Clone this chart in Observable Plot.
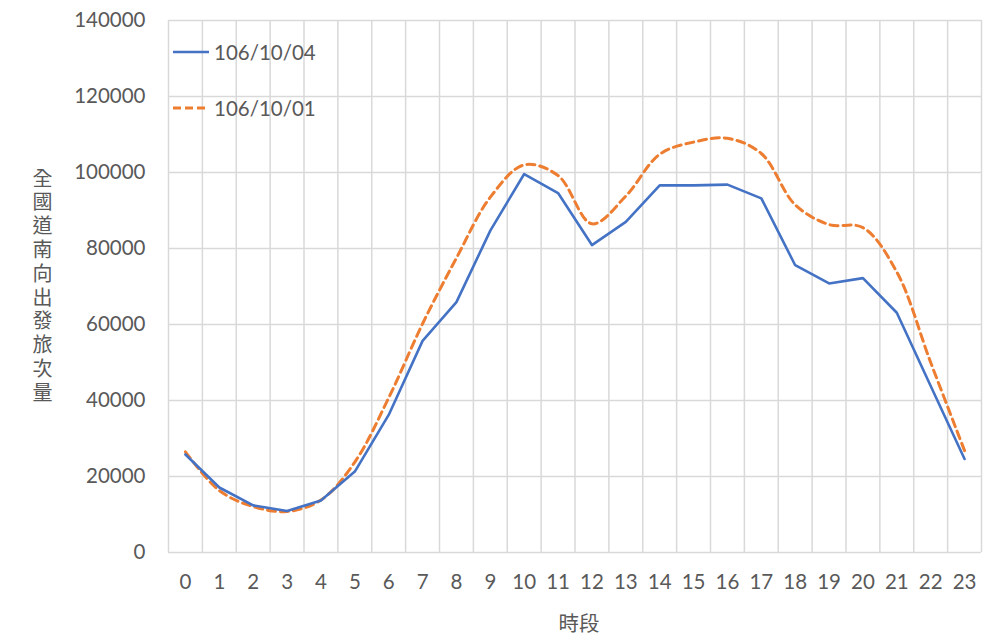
<!DOCTYPE html>
<html><head><meta charset="utf-8">
<script src="https://cdn.jsdelivr.net/npm/d3@7"></script>
<script src="https://cdn.jsdelivr.net/npm/@observablehq/plot@0.6"></script>
<style>
body{margin:0;background:#fff;}
#wrap{position:relative;width:985px;height:642px;overflow:hidden;background:#fff;}
#border{position:absolute;left:7px;top:0;width:1px;height:642px;background:#d9d9d9;}
.leg{position:absolute;left:172px;display:flex;align-items:center;font-family:Lato,"Noto Sans",sans-serif;font-size:20.5px;color:#595959;}
.leg svg{margin-right:4px;}
#ylab{position:absolute;left:31px;top:168px;writing-mode:vertical-rl;text-orientation:upright;font-family:"Noto Sans CJK TC",sans-serif;font-size:20px;line-height:22px;letter-spacing:3.8px;color:#595959;}
</style></head><body><div id="wrap"><div id="border"></div></div>
<script>
const hours = [0,1,2,3,4,5,6,7,8,9,10,11,12,13,14,15,16,17,18,19,20,21,22,23];
const seriesAName = "106/10/04";
const seriesA = [25800,17100,12400,10900,13700,21300,36200,55700,65900,84700,99600,94600,80900,87000,96600,96600,96800,93200,75600,70800,72200,63100,43800,24600];
const seriesBName = "106/10/01";
const seriesB = [26500,16300,12100,10800,13800,23800,40700,60200,77500,93500,102000,99200,86500,93800,104800,108000,109000,105000,91500,86300,85500,73800,50000,26800];
const yTicks = [0,20000,40000,60000,80000,100000,120000,140000];
const yLabel = "全國道南向出發旅次量";
const xLabel = "時段";
const colorA = "#4472C4", colorB = "#ED7D31";

const dataA = hours.map((h,i)=>({h, v: seriesA[i]}));
const dataB = hours.map((h,i)=>({h, v: seriesB[i]}));
const bounds = hours.map(h=>h-0.5).concat([hours[hours.length-1]+0.5]);

const chart = Plot.plot({
  width: 985, height: 642,
  marginLeft: 168, marginRight: 4, marginTop: 20, marginBottom: 90,
  style: {fontFamily: 'Lato, "Noto Sans CJK TC", sans-serif', fontSize: "20.5px", color: "#595959", background: "#fff"},
  x: {domain: [-0.5, 23.5]},
  y: {domain: [0, 140000]},
  marks: [
    Plot.ruleX(bounds, {stroke: "#d9d9d9", strokeWidth: 1.5, strokeOpacity: 1}),
    Plot.ruleY(yTicks, {stroke: "#d9d9d9", strokeWidth: 1.5, strokeOpacity: 1}),
    Plot.axisX(hours, {tickSize: 0, tickPadding: 22, label: null, fontSize: 20.5, fill: "#595959", tickFormat: d=>String(d)}),
    Plot.axisY(yTicks, {tickSize: 0, tickPadding: 23, label: null, fontSize: 20.5, fill: "#595959", tickFormat: d=>String(d)}),
    Plot.lineY(dataB, {x: "h", y: "v", stroke: colorB, strokeWidth: 3, strokeDasharray: "8,5", curve: "catmull-rom"}),
    Plot.lineY(dataA, {x: "h", y: "v", stroke: colorA, strokeWidth: 2.6}),
    Plot.text([xLabel], {frameAnchor: "bottom", dy: 78, dx: 4, text: d=>d, fontSize: 20.5, fill: "#595959", fontFamily: '"Noto Sans CJK TC", sans-serif'})
  ]
});
chart.style.position = "absolute";
chart.style.left = "0"; chart.style.top = "0";
const wrap = document.getElementById("wrap");
wrap.appendChild(chart);

const yl = document.createElement("div");
yl.id = "ylab";
yl.textContent = yLabel;
wrap.appendChild(yl);

function legendItem(name, color, dash, top){
  const d = document.createElement("div");
  d.className = "leg";
  d.style.top = top + "px";
  d.innerHTML = `<svg width="38" height="6"><line x1="1" y1="3" x2="37" y2="3" stroke="${color}" stroke-width="${dash?3:2.6}" ${dash?'stroke-dasharray="8,4"':''}/></svg><span>${name}</span>`;
  wrap.appendChild(d);
}
legendItem(seriesAName, colorA, false, 40);
legendItem(seriesBName, colorB, true, 96);
</script></body></html>
